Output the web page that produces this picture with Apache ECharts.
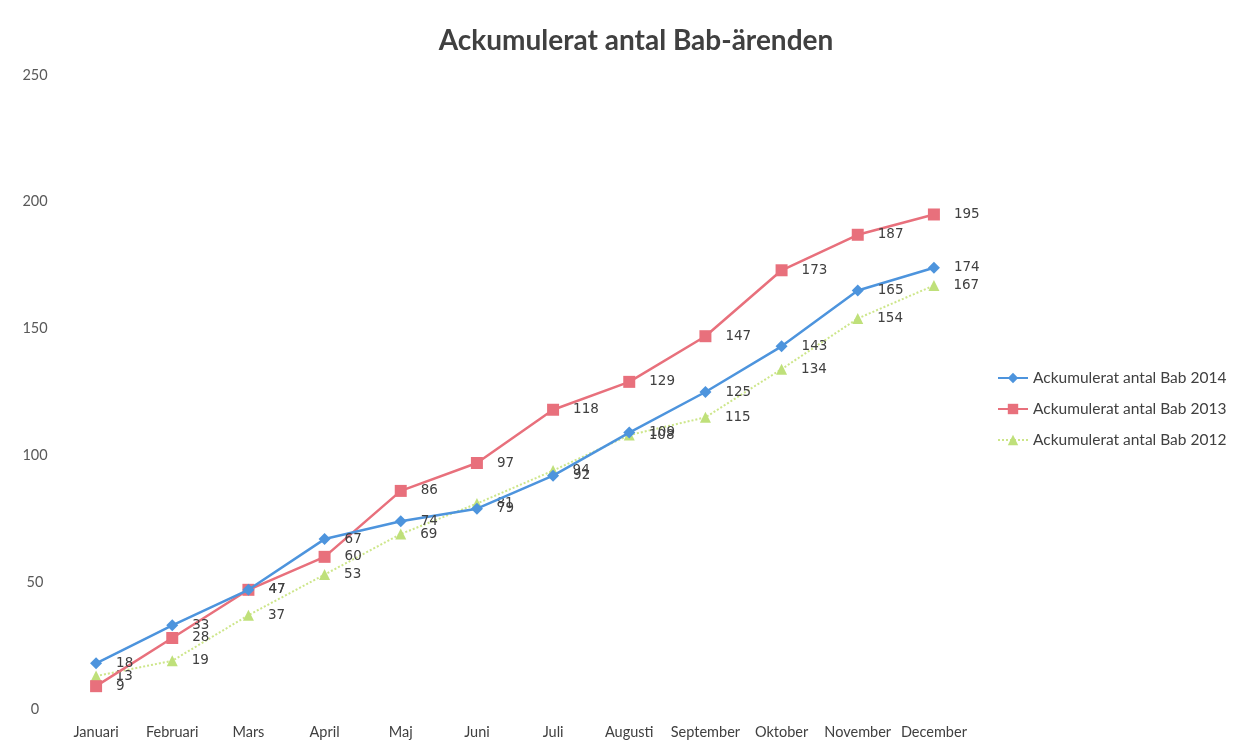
<!DOCTYPE html>
<html><head><meta charset="utf-8">
<script src="https://cdn.jsdelivr.net/npm/echarts@6/dist/echarts.min.js"></script>
<style>html,body{margin:0;padding:0;background:#fff}#c{width:1246px;height:752px}</style>
</head><body><div id="c"></div>
<script>
const categories = ['Januari','Februari','Mars','April','Maj','Juni','Juli','Augusti','September','Oktober','November','December'];
const bab2014 = [18,33,47,67,74,79,92,109,125,143,165,174];
const bab2013 = [9,28,47,60,86,97,118,129,147,173,187,195];
const bab2012 = [13,19,37,53,69,81,94,108,115,134,154,167];
const yTicks = {min:0,max:250,interval:50};
const font = 'Lato, "Open Sans", sans-serif';

const chart = echarts.init(document.getElementById('c'));
const lbl = {show:true, position:'right', distance:14, color:'#404040', fontSize:13.5, fontFamily:'"DejaVu Sans", sans-serif'};
chart.setOption({
  animation:false,
  backgroundColor:'#fff',
  title:{text:'Ackumulerat antal Bab-ärenden', left:631, top:22, textAlign:'center',
    textStyle:{fontFamily:font, fontWeight:'bold', fontSize:28, color:'#404040'}},
  legend:{orient:'vertical', left:992, top:365, itemGap:15, itemWidth:30, itemHeight:13,
    textStyle:{fontFamily:font, fontSize:15.5, color:'#404040'},
    data:['Ackumulerat antal Bab 2014','Ackumulerat antal Bab 2013','Ackumulerat antal Bab 2012']},
  grid:{left:58, right:274, top:75, bottom:43},
  xAxis:{type:'category', data:categories, boundaryGap:true,
    axisLine:{show:false}, axisTick:{show:false},
    axisLabel:{color:'#404040', fontSize:14.5, fontFamily:font, margin:16, interval:0}},
  yAxis:{type:'value', min:yTicks.min, max:yTicks.max, interval:yTicks.interval,
    axisLine:{show:false}, axisTick:{show:false}, splitLine:{show:false},
    axisLabel:{color:'#595959', fontSize:14.5, fontFamily:font, align:'center', margin:23}},
  series:[
    {name:'Ackumulerat antal Bab 2014', type:'line', data:bab2014, symbol:'diamond', symbolSize:12,
      lineStyle:{color:'#4d94dd', width:2.5}, itemStyle:{color:'#4d94dd'}, label:lbl, z:3},
    {name:'Ackumulerat antal Bab 2013', type:'line', data:bab2013, symbol:'rect', symbolSize:12,
      lineStyle:{color:'#e8707c', width:2.5}, itemStyle:{color:'#e8707c'}, label:lbl, z:2},
    {name:'Ackumulerat antal Bab 2012', type:'line', data:bab2012, symbol:'triangle', symbolSize:11,
      lineStyle:{color:'#cde68a', width:2, type:'dotted'}, itemStyle:{color:'#bfe07a'},
      label:lbl, z:1}
  ]
});
</script></body></html>
